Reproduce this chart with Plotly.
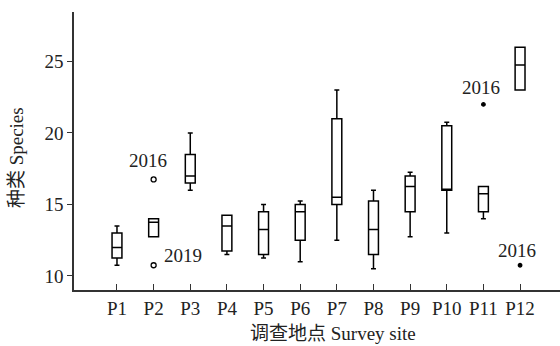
import plotly.graph_objects as go

# Species richness per survey site (box summary statistics)
sites = ["P1", "P2", "P3", "P4", "P5", "P6", "P7", "P8", "P9", "P10", "P11", "P12"]
lower_whisker = [10.75, 12.75, 16.0, 11.5, 11.25, 11.0, 12.5, 10.5, 12.75, 13.0, 14.0, 23.0]
q1_vals = [11.25, 12.75, 16.5, 11.75, 11.5, 12.5, 15.0, 11.5, 14.5, 16.0, 14.5, 23.0]
median_vals = [12.0, 13.75, 17.0, 13.5, 13.25, 14.5, 15.5, 13.25, 16.25, 16.0, 15.75, 24.75]
q3_vals = [13.0, 14.0, 18.5, 14.25, 14.5, 15.0, 21.0, 15.25, 17.0, 20.5, 16.25, 26.0]
upper_whisker = [13.5, 14.0, 20.0, 14.25, 15.0, 15.25, 23.0, 16.0, 17.25, 20.75, 16.25, 26.0]

# Outlying years
outlier_sites = ["P2", "P2", "P11", "P12"]
outlier_values = [16.75, 10.75, 22.0, 10.75]
outlier_years = ["2016", "2019", "2016", "2016"]
outlier_hollow = [True, True, False, False]

yticks = [10, 15, 20, 25]

pos = list(range(1, len(sites) + 1))
site_pos = {s: p for s, p in zip(sites, pos)}

FONT = "Liberation Serif, Noto Sans CJK SC, serif"
INK = "#222222"

fig = go.Figure()
fig.add_trace(go.Box(
    x=pos,
    q1=q1_vals, median=median_vals, q3=q3_vals,
    lowerfence=lower_whisker, upperfence=upper_whisker,
    width=0.27, whiskerwidth=0.5,
    fillcolor="rgba(0,0,0,0)",
    line=dict(color="black", width=1.5),
    boxpoints=False, hoverinfo="skip", showlegend=False,
))

for hollow in (True, False):
    xs = [site_pos[s] for s, h in zip(outlier_sites, outlier_hollow) if h == hollow]
    ys = [v for v, h in zip(outlier_values, outlier_hollow) if h == hollow]
    fig.add_trace(go.Scatter(
        x=xs, y=ys, mode="markers", showlegend=False, hoverinfo="skip",
        marker=dict(
            symbol="circle-open" if hollow else "circle",
            size=5 if hollow else 3.5,
            color="black",
            line=dict(width=1.3, color="black"),
        ),
    ))

# Year labels beside the outliers (offsets in pixels)
label_shift = [(-6, 19), (29, 10), (-2, 17), (-3, 15)]
for s, v, yr, (dx, dy) in zip(outlier_sites, outlier_values, outlier_years, label_shift):
    fig.add_annotation(
        x=site_pos[s], y=v, text=yr, showarrow=False,
        xshift=dx, yshift=dy,
        font=dict(family=FONT, size=19, color=INK),
    )

# Axis titles
fig.add_annotation(
    xref="paper", yref="paper", x=0.533, y=-0.155, yanchor="middle",
    text="调查地点 Survey site", showarrow=False,
    font=dict(family=FONT, size=19, color=INK),
)
fig.add_annotation(
    xref="paper", yref="paper", x=-0.117, y=0.475, xanchor="center",
    text="种类 Species", textangle=-90, showarrow=False,
    font=dict(family=FONT, size=19, color=INK),
)

fig.update_layout(
    width=560, height=346,
    margin=dict(l=74, r=0, t=12, b=56),
    paper_bgcolor="white", plot_bgcolor="white",
    font=dict(family=FONT, size=19, color=INK),
)
fig.update_xaxes(
    range=[-0.173, 13.09],
    tickmode="array", tickvals=pos, ticktext=sites,
    showgrid=False, zeroline=False,
    showline=True, linecolor="#333333", linewidth=1.5,
    ticks="inside", ticklen=6, tickwidth=1, tickcolor="#333333",
    tickfont=dict(family=FONT, size=19, color=INK),
)
fig.update_yaxes(
    range=[9.02, 28.46],
    tickmode="array", tickvals=yticks,
    showgrid=False, zeroline=False,
    showline=True, linecolor="#333333", linewidth=1.5,
    ticks="outside", ticklen=5, tickwidth=1, tickcolor="#333333",
    tickfont=dict(family=FONT, size=19, color=INK),
)

fig.write_html("out.html")
